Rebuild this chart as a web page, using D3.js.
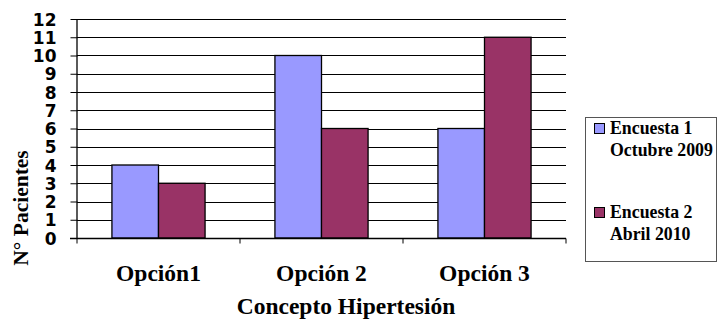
<!DOCTYPE html>
<html>
<head>
<meta charset="utf-8">
<script src="https://cdn.jsdelivr.net/npm/d3@7"></script>
</head>
<body style="margin:0">
<svg id="chart" width="721" height="320"></svg>
<script>
// Survey results: patients per answer option on hypertension concept
const categories = ["Opción1", "Opción 2", "Opción 3"];
const seriesNames = ["Encuesta 1", "Encuesta 2"];
const seriesSubtitles = ["Octubre 2009", "Abril 2010"];
const encuesta1 = [4, 10, 6];
const encuesta2 = [3, 6, 11];
const yTicks = [0, 1, 2, 3, 4, 5, 6, 7, 8, 9, 10, 11, 12];
const colors = ["#9999FF", "#993366"];

const SERIF = "Liberation Serif";
const SANS = "DejaVu Sans";

const svg = d3.select("#chart").style("display", "block");
const plot = { left: 77, right: 566, top: 19, bottom: 238 };

const x = d3.scaleBand().domain(categories).range([plot.left, plot.right]).paddingInner(0).paddingOuter(0);
const barW = x.bandwidth() / 3.5; // gap width 150%
const y = d3.scaleLinear().domain([0, 12]).range([plot.bottom, plot.top]);

// Horizontal gridlines
svg.append("g")
  .selectAll("line")
  .data(yTicks.filter(d => d > 0))
  .join("line")
  .attr("x1", plot.left).attr("x2", plot.right)
  .attr("y1", d => Math.round(y(d)) + 0.5).attr("y2", d => Math.round(y(d)) + 0.5)
  .attr("stroke", "#000").attr("stroke-width", 1);

// Bars
const series = [encuesta1, encuesta2];
series.forEach((vals, si) => {
  svg.append("g")
    .selectAll("rect")
    .data(vals)
    .join("rect")
    .attr("x", (d, i) => x(categories[i]) + barW * 0.75 + si * barW)
    .attr("y", d => y(d))
    .attr("width", barW)
    .attr("height", d => y(0) - y(d))
    .attr("fill", colors[si])
    .attr("stroke", "#000")
    .attr("stroke-width", 1.3);
});

// Y axis
const yAxis = d3.axisLeft(y).tickValues(yTicks).tickSize(7).tickPadding(14).tickFormat(d3.format("d"));
const gy = svg.append("g").attr("transform", `translate(${plot.left + 0.5},0)`).call(yAxis);
gy.attr("font-family", SANS).attr("font-size", 17).attr("font-weight", "bold");
gy.select(".domain").attr("stroke", "#000").attr("d", `M-0.5,${plot.top}V${plot.bottom + 1}`).attr("stroke-width", 1.3);
gy.selectAll(".tick line").attr("stroke", "#000");
gy.selectAll(".tick text").attr("fill", "#000").attr("dy", "0.36em");

// X axis
const xAxis = d3.axisBottom(x).tickSize(0).tickFormat("");
const gx = svg.append("g").attr("transform", `translate(0,${plot.bottom + 0.5})`).call(xAxis);
gx.select(".domain").attr("stroke", "#000").attr("stroke-width", 1.3).attr("d", `M${plot.left - 7},0H${plot.right}`);
const xTickPos = categories.map(c => x(c)).concat([plot.right]);
gx.append("g").selectAll("line").data(xTickPos).join("line")
  .attr("x1", d => d).attr("x2", d => d).attr("y1", 0).attr("y2", 5)
  .attr("stroke", "#000");

// Category labels
svg.append("g").selectAll("text").data(categories).join("text")
  .attr("x", d => x(d) + x.bandwidth() / 2)
  .attr("y", 281)
  .attr("text-anchor", "middle")
  .attr("font-family", SERIF).attr("font-weight", "bold").attr("font-size", 23.5)
  .text(d => d);

// Axis titles
svg.append("text")
  .attr("x", 346).attr("y", 314)
  .attr("text-anchor", "middle")
  .attr("font-family", SERIF).attr("font-weight", "bold").attr("font-size", 23.5)
  .text("Concepto Hipertesión");

svg.append("text")
  .attr("transform", "translate(28,208) rotate(-90)")
  .attr("text-anchor", "middle")
  .attr("font-family", SERIF).attr("font-weight", "bold").attr("font-size", 21.5)
  .text("N° Pacientes");

// Legend
const legend = svg.append("g");
legend.append("rect")
  .attr("x", 585.5).attr("y", 117.5).attr("width", 131).attr("height", 144)
  .attr("fill", "#fff").attr("stroke", "#555").attr("stroke-width", 1);
const legendY = [123, 207];
seriesNames.forEach((name, i) => {
  legend.append("rect")
    .attr("x", 594.5).attr("y", legendY[i] + 0.5).attr("width", 10).attr("height", 10)
    .attr("fill", colors[i]).attr("stroke", "#000").attr("stroke-width", 1);
  const t = legend.append("text")
    .attr("font-family", SERIF).attr("font-weight", "bold").attr("font-size", 17.8);
  t.append("tspan").attr("x", 610).attr("y", legendY[i] + 11).text(name);
  t.append("tspan").attr("x", 610).attr("y", legendY[i] + 33).text(seriesSubtitles[i]);
});
</script>
</body>
</html>
